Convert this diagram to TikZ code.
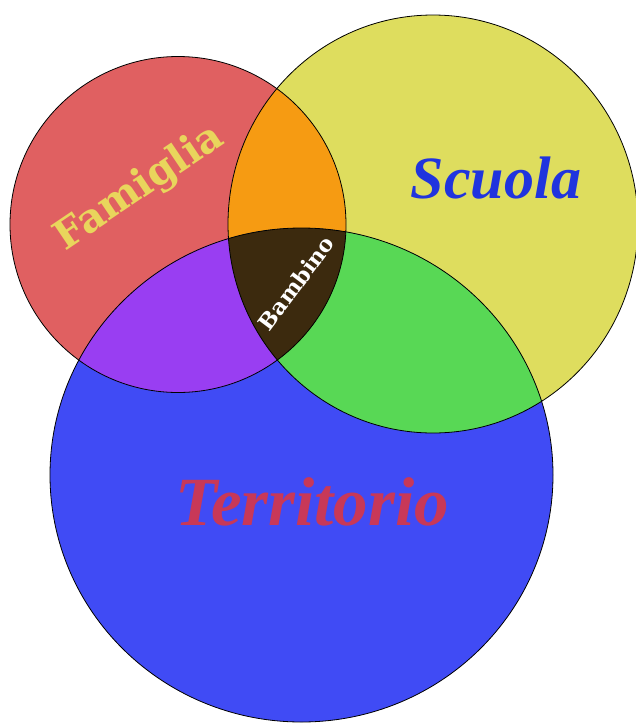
\documentclass[tikz,border=0pt]{standalone}
\usepackage{fontspec}
\setmainfont{Liberation Serif}
\newfontfamily\slabfont{DejaVu Serif}
\usepackage{tikz}
\usetikzlibrary{positioning}

\definecolor{famred}{RGB}{224,96,97}
\definecolor{scuyellow}{RGB}{222,221,94}
\definecolor{terblue}{RGB}{64,75,245}
\definecolor{famscu}{RGB}{246,155,18}
\definecolor{famter}{RGB}{153,62,242}
\definecolor{scuter}{RGB}{88,216,85}
\definecolor{centro}{RGB}{60,42,14}
\definecolor{famtext}{RGB}{233,213,92}
\definecolor{scutext}{RGB}{32,52,222}
\definecolor{tertext}{RGB}{200,56,88}

\newcommand{\famset}{(178,224.5) circle [x radius=168pt, y radius=168pt]}
\newcommand{\scuset}{(433,224) circle [x radius=205pt, y radius=209pt]}
\newcommand{\terset}{(301.5,475) circle [x radius=251.5pt, y radius=247pt]}

\tikzset{border/.style={draw=black, line width=0.8pt}}

\begin{document}
\begin{tikzpicture}[x=1pt, y=-1pt]
    \useasboundingbox (0,0) rectangle (636,724);

    \fill [famred] \famset;
    \fill [scuyellow] \scuset;
    \fill [terblue] \terset;

    \begin{scope}
        \clip \famset;
        \fill [famscu] \scuset;
    \end{scope}
    \begin{scope}
        \clip \famset;
        \fill [famter] \terset;
    \end{scope}
    \begin{scope}
        \clip \scuset;
        \fill [scuter] \terset;
    \end{scope}
    \begin{scope}
        \clip \famset;
        \clip \scuset;
        \fill [centro] \terset;
    \end{scope}

    \draw [border] \famset;
    \draw [border] \scuset;
    \draw [border] \terset;

    \node (famiglia) [rotate=34, text=famtext, font=\slabfont\bfseries\fontsize{40}{42}\selectfont] at (140,188) {Famiglia};
    \node (scuola) [text=scutext, font=\bfseries\itshape\fontsize{60}{62}\selectfont] at (496,178) {Scuola};
    \node (territorio) [text=tertext, font=\bfseries\itshape\fontsize{69}{71}\selectfont] at (312,502) {Territorio};
    \node (bambino) [rotate=53, text=white, font=\slabfont\bfseries\fontsize{22}{24}\selectfont] at (296,283) {Bambino};
\end{tikzpicture}
\end{document}
